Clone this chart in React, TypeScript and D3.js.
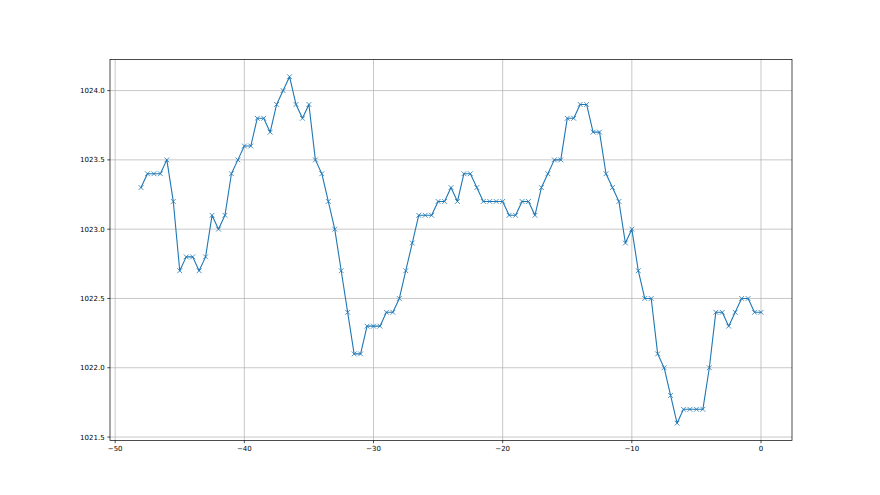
import React from "react";
import * as d3 from "d3";

const xStart = -48;
const xStep = 0.5;
const pressure: number[] = [
  1023.3, 1023.4, 1023.4, 1023.4, 1023.5, 1023.2, 1022.7, 1022.8, 1022.8, 1022.7, 1022.8,
  1023.1, 1023.0, 1023.1, 1023.4, 1023.5, 1023.6, 1023.6, 1023.8, 1023.8, 1023.7, 1023.9,
  1024.0, 1024.1, 1023.9, 1023.8, 1023.9, 1023.5, 1023.4, 1023.2, 1023.0, 1022.7, 1022.4,
  1022.1, 1022.1, 1022.3, 1022.3, 1022.3, 1022.4, 1022.4, 1022.5, 1022.7, 1022.9, 1023.1,
  1023.1, 1023.1, 1023.2, 1023.2, 1023.3, 1023.2, 1023.4, 1023.4, 1023.3, 1023.2, 1023.2,
  1023.2, 1023.2, 1023.1, 1023.1, 1023.2, 1023.2, 1023.1, 1023.3, 1023.4, 1023.5, 1023.5,
  1023.8,
  1023.8, 1023.9, 1023.9, 1023.7, 1023.7, 1023.4, 1023.3, 1023.2, 1022.9, 1023.0, 1022.7,
  1022.5, 1022.5, 1022.1, 1022.0, 1021.8, 1021.6, 1021.7, 1021.7, 1021.7, 1021.7, 1022.0,
  1022.4, 1022.4, 1022.3, 1022.4, 1022.5, 1022.5, 1022.4, 1022.4,
];
const xTicks = [-50, -40, -30, -20, -10, 0];
const yTicks = [1021.5, 1022.0, 1022.5, 1023.0, 1023.5, 1024.0];

const W = 880, H = 495;
const L = 110, R = 792, T = 59.4, B = 440.5;
const color = "#1f77b4";

export default function App() {
  const data = pressure.map((v, i) => ({ x: xStart + i * xStep, y: v }));
  const xMin = d3.min(data, d => d.x)!, xMax = d3.max(data, d => d.x)!;
  const yMin = d3.min(data, d => d.y)!, yMax = d3.max(data, d => d.y)!;
  const xm = (xMax - xMin) * 0.05, ym = (yMax - yMin) * 0.05;
  const x = d3.scaleLinear().domain([xMin - xm, xMax + xm]).range([L, R]);
  const y = d3.scaleLinear().domain([yMin - ym, yMax + ym]).range([B, T]);
  const line = d3.line<{ x: number; y: number }>().x(d => x(d.x)).y(d => y(d.y));
  const fmtX = (v: number) => (v < 0 ? "\u2212" + Math.abs(v) : String(v));
  const font = "DejaVu Sans, sans-serif";
  const tick = 2.7, pad = 2.7, fs = 7;
  return (
    <svg width={W} height={H} style={{ display: "block", margin: "-8px" }} fontFamily={font}>
      <rect width={W} height={H} fill="#fff" />
      <g>
        {xTicks.map(t => (
          <line key={"gx" + t} x1={x(t)} x2={x(t)} y1={T} y2={B} stroke="#b0b0b0" strokeWidth={0.7} />
        ))}
        {yTicks.map(t => (
          <line key={"gy" + t} x1={L} x2={R} y1={y(t)} y2={y(t)} stroke="#b0b0b0" strokeWidth={0.7} />
        ))}
      </g>
      <path d={line(data)!} fill="none" stroke={color} strokeWidth={1.1} strokeLinejoin="round" strokeLinecap="square" />
      {data.map((d, i) => {
        const cx = x(d.x), cy = y(d.y), s = 2.4;
        return (
          <path key={i} d={`M${cx - s},${cy - s}L${cx + s},${cy + s}M${cx - s},${cy + s}L${cx + s},${cy - s}`}
            stroke={color} strokeWidth={0.8} fill="none" />
        );
      })}
      <rect x={L} y={T} width={R - L} height={B - T} fill="none" stroke="#000" strokeWidth={0.7} />
      {xTicks.map(t => (
        <g key={"tx" + t}>
          <line x1={x(t)} x2={x(t)} y1={B} y2={B + tick} stroke="#000" strokeWidth={0.7} />
          <text x={x(t)} y={B + tick + pad + 5.3} fontSize={fs} textAnchor="middle" fill="#000">{fmtX(t)}</text>
        </g>
      ))}
      {yTicks.map(t => (
        <g key={"ty" + t}>
          <line x1={L - tick} x2={L} y1={y(t)} y2={y(t)} stroke="#000" strokeWidth={0.7} />
          <text x={L - tick - pad} y={y(t)} dy="0.36em" fontSize={fs} textAnchor="end" fill="#000">{t.toFixed(1)}</text>
        </g>
      ))}
    </svg>
  );
}
